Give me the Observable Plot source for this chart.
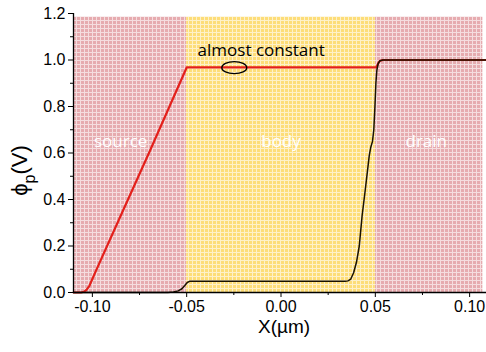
<!DOCTYPE html>
<html>
<head>
<meta charset="utf-8">
<script src="https://cdn.jsdelivr.net/npm/d3@7"></script>
<script src="https://cdn.jsdelivr.net/npm/@observablehq/plot@0.6"></script>
<style>
html, body { margin: 0; padding: 0; overflow: hidden; background: #fff; }
</style>
</head>
<body>
<div id="chart"></div>
<script>
// ---- data ----
const regionNames = ["source", "body", "drain"];
const regionKind = ["contact", "channel", "contact"];
const regionStart = [-0.11, -0.05, 0.05];
const regionEnd = [-0.05, 0.05, 0.107];
const regionTop = 1.185;
const regionLabelX = [-0.085, 0.0, 0.077];
const regionLabelY = 0.65;

const redX = [-0.110, -0.106, -0.1045, -0.103, -0.1015, -0.100, -0.098, -0.090, -0.070, -0.050, 0.000, 0.0505, 0.0515, 0.0525, 0.054, 0.060, 0.110];
const redY = [0, 0, 0.003, 0.012, 0.03, 0.058, 0.095, 0.24, 0.60, 0.968, 0.968, 0.968, 0.985, 0.997, 1.0, 1.0, 1.0];

const blackX = [-0.110, -0.060, -0.057, -0.0545, -0.0525, -0.051, -0.0497, -0.0485, 0.034, 0.0355, 0.037, 0.0385, 0.040, 0.0415, 0.043, 0.0445, 0.0458, 0.0468, 0.0476, 0.0485, 0.0492, 0.0498, 0.0503, 0.0508, 0.0515, 0.0525, 0.054, 0.110];
const blackY = [0, 0, 0.002, 0.007, 0.016, 0.03, 0.043, 0.048, 0.048, 0.05, 0.058, 0.085, 0.13, 0.2, 0.33, 0.43, 0.52, 0.59, 0.625, 0.65, 0.70, 0.80, 0.90, 0.955, 0.985, 0.997, 1.0, 1.0];

const xTicks = [-0.10, -0.05, 0.00, 0.05, 0.10];
const xMinorTicks = [-0.075, -0.025, 0.025, 0.075];
const yTicks = [0, 0.2, 0.4, 0.6, 0.8, 1.0, 1.2];
const yMinorTicks = [0.1, 0.3, 0.5, 0.7, 0.9, 1.1];

const annotationText = ["almost constant"];
const annotationX = [-0.0105];
const annotationY = [1.042];
const ellipseX = -0.0245;
const ellipseY = 0.965;

const xLabel = "X(µm)";
const yLabelMain = "ϕ";
const yLabelSub = "p";
const yLabelUnit = "(V)";

// ---- build tables ----
const regions = regionNames.map((name, i) => ({
  name, kind: regionKind[i], x1: regionStart[i], x2: regionEnd[i], y1: 0, y2: regionTop,
  lx: regionLabelX[i], ly: regionLabelY
}));
const red = redX.map((x, i) => ({x, y: redY[i]}));
const black = blackX.map((x, i) => ({x, y: blackY[i]}));
const notes = annotationText.map((t, i) => ({t, x: annotationX[i], y: annotationY[i]}));

const ns = "http://www.w3.org/2000/svg";
const fmtX = d => (Math.abs(d) < 1e-9 ? 0 : d).toFixed(2);
const fmtY = d => d.toFixed(1);

function ellipseMark(index, scales) {
  const e = document.createElementNS(ns, "ellipse");
  e.setAttribute("cx", scales.x(ellipseX));
  e.setAttribute("cy", scales.y(ellipseY));
  e.setAttribute("rx", 12.5);
  e.setAttribute("ry", 6);
  e.setAttribute("fill", "none");
  e.setAttribute("stroke", "#000");
  e.setAttribute("stroke-width", 1.3);
  return e;
}

function yLabelMark(index, scales, values, dimensions) {
  const t = document.createElementNS(ns, "text");
  const cy = (dimensions.marginTop + dimensions.height - dimensions.marginBottom) / 2 + 18;
  t.setAttribute("transform", `translate(27,${cy}) rotate(-90)`);
  t.setAttribute("text-anchor", "middle");
  t.setAttribute("font-family", "'Liberation Sans', Arial, sans-serif");
  t.setAttribute("font-size", 22);
  t.setAttribute("fill", "#000");
  const a = document.createElementNS(ns, "tspan"); a.textContent = yLabelMain;
  const b = document.createElementNS(ns, "tspan"); b.textContent = yLabelSub;
  b.setAttribute("font-size", 16); b.setAttribute("dy", 8);
  const c = document.createElementNS(ns, "tspan"); c.textContent = yLabelUnit;
  c.setAttribute("dy", -8);
  t.append(a, b, c);
  return t;
}

const chart = Plot.plot({
  width: 486,
  height: 352,
  marginLeft: 73,
  marginRight: -2,
  marginTop: 13,
  marginBottom: 60,
  x: {domain: [-0.11, 0.11]},
  y: {domain: [0, 1.2]},
  style: {fontFamily: "'Liberation Sans', Arial, sans-serif", fontSize: "16px", background: "#fff", color: "#000"},
  marks: [
    Plot.rect(regions.filter(d => d.kind === "contact"), {x1: "x1", x2: "x2", y1: "y1", y2: "y2", fill: "url(#pinkPat)"}),
    Plot.rect(regions.filter(d => d.kind === "channel"), {x1: "x1", x2: "x2", y1: "y1", y2: "y2", fill: "url(#yellowPat)"}),
    Plot.text(regions, {x: "lx", y: "ly", text: "name", fill: "#fff", fontSize: 17, fontFamily: "'Open Sans', sans-serif"}),
    Plot.line(red, {x: "x", y: "y", stroke: "#e3201b", strokeWidth: 2.2}),
    Plot.line(black, {x: "x", y: "y", stroke: "#1a1200", strokeWidth: 1.5}),
    Plot.text(notes, {x: "x", y: "y", text: "t", fill: "#000", fontSize: 17, fontFamily: "'Open Sans', sans-serif"}),
    ellipseMark,
    Plot.axisX(xTicks, {tickSize: 5, tickPadding: 3, tickFormat: fmtX, fontSize: 16, label: null}),
    Plot.axisX(xMinorTicks, {tickSize: 3, tickFormat: () => "", label: null}),
    Plot.axisY(yTicks, {tickSize: 5, tickPadding: 3, tickFormat: fmtY, fontSize: 16, label: null}),
    Plot.axisY(yMinorTicks, {tickSize: 3, tickFormat: () => "", label: null}),
    Plot.ruleY([0], {stroke: "#000", strokeWidth: 1.3}),
    Plot.ruleX([-0.11], {y1: 0, y2: 1.2, stroke: "#000", strokeWidth: 1.3}),
    Plot.text([xLabel], {frameAnchor: "bottom", dy: 40, dx: 3, text: d => d, fontSize: 19, fill: "#000"}),
    yLabelMark
  ]
});

// patterns for the shaded regions
const defs = document.createElementNS(ns, "defs");
function makePattern(id, base) {
  const p = document.createElementNS(ns, "pattern");
  p.setAttribute("id", id);
  p.setAttribute("patternUnits", "userSpaceOnUse");
  p.setAttribute("width", 4);
  p.setAttribute("height", 4);
  const r = document.createElementNS(ns, "rect");
  r.setAttribute("width", 4); r.setAttribute("height", 4); r.setAttribute("fill", base);
  const h = document.createElementNS(ns, "rect");
  h.setAttribute("width", 4); h.setAttribute("height", 1); h.setAttribute("fill", "#fff"); h.setAttribute("fill-opacity", 0.6);
  const v = document.createElementNS(ns, "rect");
  v.setAttribute("y", 1); v.setAttribute("width", 1); v.setAttribute("height", 3); v.setAttribute("fill", "#fff"); v.setAttribute("fill-opacity", 0.6);
  p.append(r, h, v);
  return p;
}
defs.append(makePattern("pinkPat", "#e6abaf"), makePattern("yellowPat", "#fddd78"));
chart.insertBefore(defs, chart.firstChild);

document.getElementById("chart").append(chart);
</script>
</body>
</html>
